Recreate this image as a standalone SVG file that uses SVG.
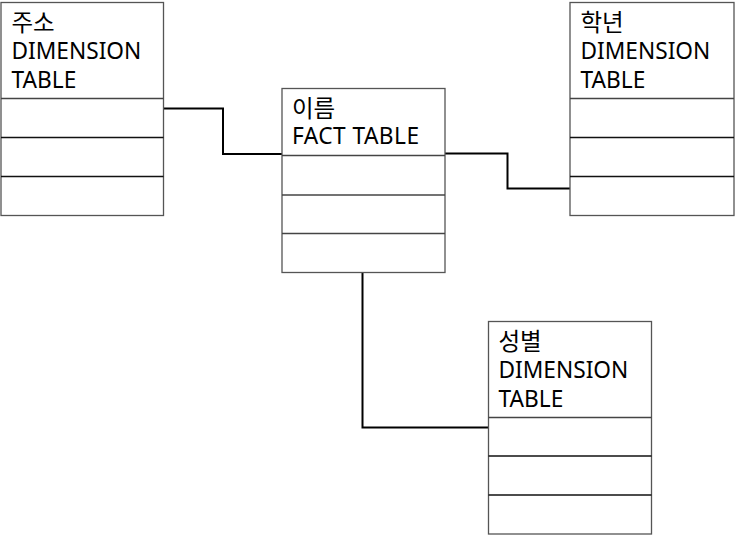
<svg xmlns="http://www.w3.org/2000/svg" width="735" height="536" viewBox="0 0 735 536">
<style>
.box{fill:#fff;stroke:#555;stroke-width:1.3}
.row{stroke:#111;stroke-width:1.3}
.hdr{stroke:#444;stroke-width:1.3}
.t{font-family:"Noto Sans","Noto Sans CJK KR",sans-serif;font-size:22.7px;fill:#000}
.k{font-family:"Noto Sans CJK KR",sans-serif;font-size:23.5px;fill:#000}
.c{fill:none;stroke:#000;stroke-width:2}
</style>
<rect width="735" height="536" fill="#fff"/>
<g id="connectors">
<polyline class="c" points="163,108.5 223,108.5 223,154 282,154"/>
<polyline class="c" points="445,153.5 507.5,153.5 507.5,188.5 570,188.5"/>
<polyline class="c" points="362.5,272 362.5,427.5 488,427.5"/>
</g>
<g id="juso">
<rect class="box" x="1" y="2.5" width="162.5" height="213"/>
<line class="hdr" x1="1" y1="98.5" x2="163.5" y2="98.5"/>
<line class="row" x1="1" y1="137.5" x2="163.5" y2="137.5"/>
<line class="row" x1="1" y1="176.5" x2="163.5" y2="176.5"/>
<text class="k" x="11.5" y="30.5">주소</text>
<text class="t" x="11.5" y="59">DIMENSION</text>
<text class="t" x="11.5" y="88">TABLE</text>
</g>
<g id="fact">
<rect class="box" x="282" y="88.5" width="163" height="184"/>
<line class="hdr" x1="282" y1="155.5" x2="445" y2="155.5"/>
<line class="hdr" x1="282" y1="195" x2="445" y2="195"/>
<line class="hdr" x1="282" y1="233.5" x2="445" y2="233.5"/>
<text class="k" x="292" y="116.5">이름</text>
<text class="t" x="292" y="144" textLength="127">FACT TABLE</text>
</g>
<g id="hangnyeon">
<rect class="box" x="570" y="2.5" width="164" height="213"/>
<line class="hdr" x1="570" y1="98.5" x2="734" y2="98.5"/>
<line class="row" x1="570" y1="137.5" x2="734" y2="137.5"/>
<line class="row" x1="570" y1="176.5" x2="734" y2="176.5"/>
<text class="k" x="580.5" y="30.5">학년</text>
<text class="t" x="580.5" y="59">DIMENSION</text>
<text class="t" x="580.5" y="88">TABLE</text>
</g>
<g id="seongbyeol">
<rect class="box" x="488.5" y="321.5" width="163" height="212.5"/>
<line class="hdr" x1="488.5" y1="417.5" x2="651.5" y2="417.5"/>
<line class="row" x1="488.5" y1="456" x2="651.5" y2="456"/>
<line class="row" x1="488.5" y1="495" x2="651.5" y2="495"/>
<text class="k" x="498.5" y="349.5">성별</text>
<text class="t" x="498.5" y="378">DIMENSION</text>
<text class="t" x="498.5" y="407">TABLE</text>
</g>
</svg>
